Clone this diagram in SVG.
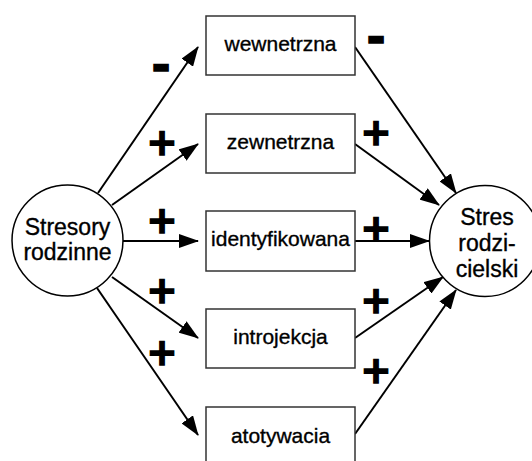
<svg xmlns="http://www.w3.org/2000/svg" width="532" height="461" viewBox="0 0 532 461">
  <style>
    .box { fill: #fff; stroke: #333; stroke-width: 1.5; }
    .circ { fill: #fff; stroke: #000; stroke-width: 1.5; }
    .lbl { font-family: "Liberation Sans", Arial, sans-serif; font-size: 21px; fill: #000; stroke: #000; stroke-width: 0.35; text-anchor: middle; }
    .clbl { font-family: "Liberation Sans", Arial, sans-serif; font-size: 23px; fill: #000; stroke: #000; stroke-width: 0.35; text-anchor: middle; }
    .edge { stroke: #000; stroke-width: 2; fill: none; marker-end: url(#arr); }
    .sign { font-family: "DejaVu Sans", "Liberation Sans", sans-serif; font-weight: bold; fill: #000; stroke: #000; stroke-width: 1.5; text-anchor: middle; }
    .plus { font-size: 37px; }
    .minus { font-size: 46px; }
  </style>
  <defs>
    <marker id="arr" markerUnits="userSpaceOnUse" markerWidth="20" markerHeight="14" viewBox="0 0 20 14" refX="19" refY="7" orient="auto">
      <path d="M0,0 L20,7 L0,14 z" fill="#000"/>
    </marker>
  </defs>
  <rect width="532" height="461" fill="#fff"/>

  <g id="connectors">
    <line class="edge" x1="98" y1="193" x2="198" y2="47"/>
    <line class="edge" x1="112" y1="205" x2="198" y2="144"/>
    <line class="edge" x1="123" y1="241" x2="198" y2="241"/>
    <line class="edge" x1="112" y1="277" x2="198" y2="338"/>
    <line class="edge" x1="97" y1="288" x2="198" y2="435"/>
    <line class="edge" x1="355" y1="47" x2="456" y2="193"/>
    <line class="edge" x1="355" y1="144" x2="439" y2="205"/>
    <line class="edge" x1="355" y1="241" x2="429" y2="241"/>
    <line class="edge" x1="355" y1="338" x2="443" y2="277"/>
    <line class="edge" x1="355" y1="434" x2="456" y2="290"/>
  </g>

  <g id="signs">
    <text class="sign minus" x="161" y="81">-</text>
    <text class="sign plus" x="162" y="155">+</text>
    <text class="sign plus" x="162" y="233">+</text>
    <text class="sign plus" x="162" y="303">+</text>
    <text class="sign plus" x="162" y="365">+</text>
    <text class="sign minus" x="376" y="53">-</text>
    <text class="sign plus" x="376" y="145">+</text>
    <text class="sign plus" x="376" y="241">+</text>
    <text class="sign plus" x="376" y="313">+</text>
    <text class="sign plus" x="376" y="383">+</text>
  </g>

  <g id="stresory">
    <circle class="circ" cx="67.5" cy="240.5" r="55.5"/>
    <text class="clbl" x="67.5" y="235">Stresory</text>
    <text class="clbl" x="67.5" y="260">rodzinne</text>
  </g>

  <g id="wewnetrzna">
    <rect class="box" x="206" y="16" width="149" height="59"/>
    <text class="lbl" x="280.5" y="51">wewnetrzna</text>
  </g>
  <g id="zewnetrzna">
    <rect class="box" x="206" y="114" width="149" height="59"/>
    <text class="lbl" x="280.5" y="149">zewnetrzna</text>
  </g>
  <g id="identyfikowana">
    <rect class="box" x="206" y="211" width="149" height="60"/>
    <text class="lbl" x="280.5" y="246">identyfikowana</text>
  </g>
  <g id="introjekcja">
    <rect class="box" x="206" y="309" width="149" height="59"/>
    <text class="lbl" x="280.5" y="344">introjekcja</text>
  </g>
  <g id="atotywacia">
    <rect class="box" x="206" y="407" width="149" height="59"/>
    <text class="lbl" x="280.5" y="443">atotywacia</text>
  </g>

  <g id="stres">
    <circle class="circ" cx="485" cy="241" r="55.5"/>
    <text class="clbl" x="487" y="225">Stres</text>
    <text class="clbl" x="487" y="251">rodzi-</text>
    <text class="clbl" x="487" y="277">cielski</text>
  </g>
</svg>
